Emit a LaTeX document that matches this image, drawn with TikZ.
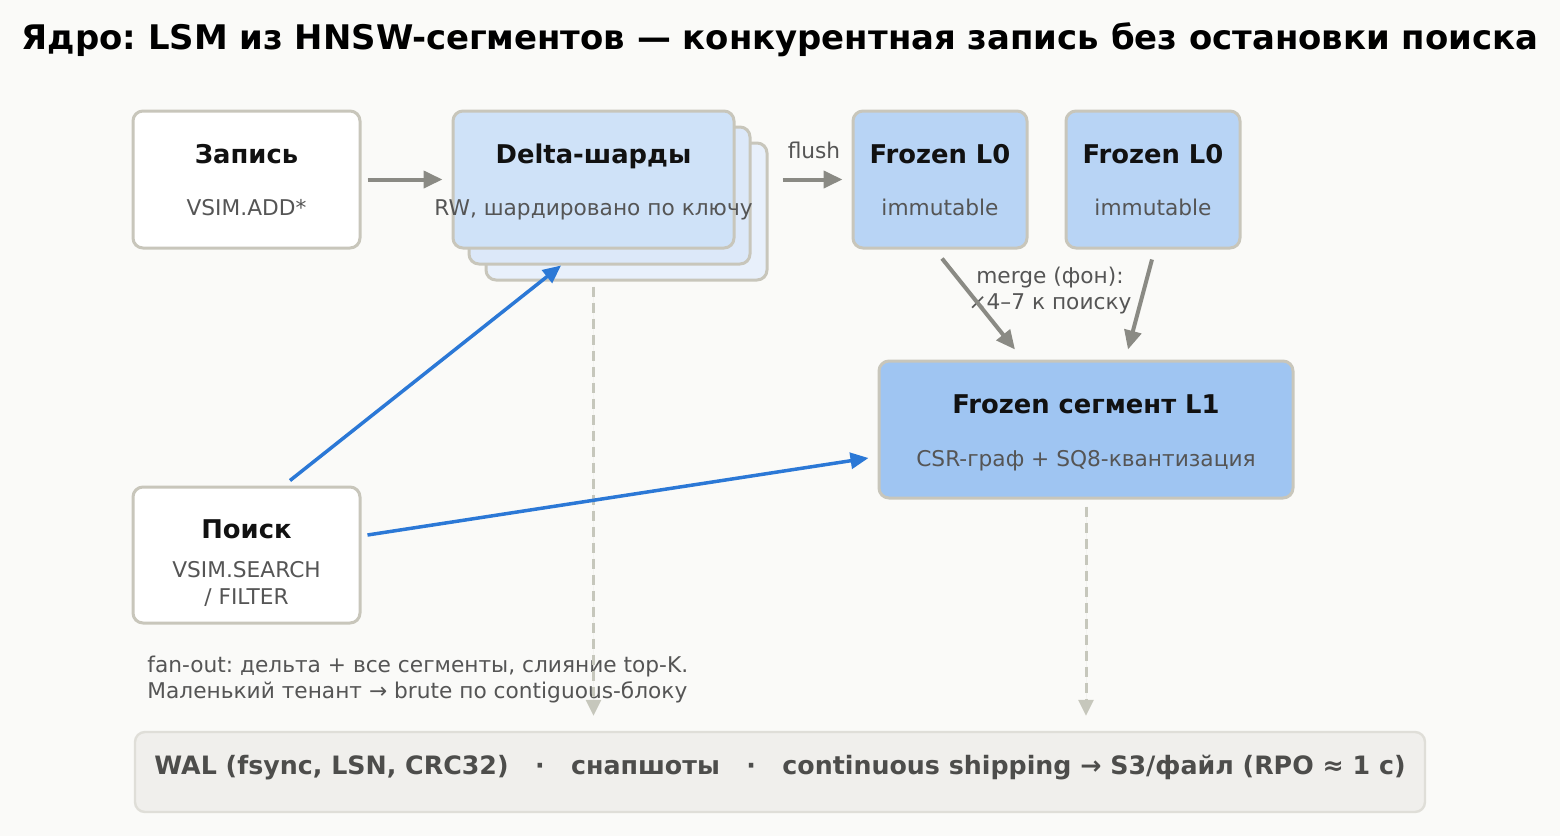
\documentclass[tikz,border=0pt]{standalone}
\usepackage{fontspec}
\setmainfont{DejaVu Sans}
\usetikzlibrary{arrows.meta,calc}
\frenchspacing
\definecolor{bg}{HTML}{FAFAF8}
\definecolor{bordc}{HTML}{C8C6BB}
\definecolor{subc}{HTML}{555555}
\definecolor{ttlc}{HTML}{111111}
\definecolor{arrg}{HTML}{8A8A84}
\definecolor{blu}{HTML}{2B78D6}
\definecolor{dashc}{HTML}{C6C7BC}
\definecolor{dA}{HTML}{CFE2F8}
\definecolor{dB}{HTML}{DCE8F9}
\definecolor{dC}{HTML}{E8F0FB}
\definecolor{lzero}{HTML}{B8D4F5}
\definecolor{lone}{HTML}{9FC5F2}
\definecolor{walf}{HTML}{F0EFEC}
\definecolor{walb}{HTML}{DFDED8}
\definecolor{walt}{HTML}{4D4D4B}
\tikzset{
  box/.style={draw=bordc, line width=1.5pt, rounded corners=5pt, inner sep=0pt},
  ttl/.style={font=\bfseries\fontsize{12.9}{15}\selectfont, text=ttlc, inner sep=0pt, text height=9.4pt, text depth=0pt},
  sub/.style={font=\fontsize{10.85}{13}\selectfont, text=subc, inner sep=0pt, text height=7.9pt, text depth=0pt},
  garrow/.style={draw=arrg, line width=2pt, -{Triangle[length=9.5pt,width=8.5pt]}, fill=arrg},
  barrow/.style={draw=blu, line width=1.75pt, -{Triangle[length=9pt,width=8pt]}, fill=blu},
  darrow/.style={draw=dashc, line width=1.5pt, dash pattern=on 5pt off 3pt, -{Triangle[length=8pt,width=7.5pt]}, fill=dashc},
}
\begin{document}
\begin{tikzpicture}[x=0.5pt,y=-0.5pt]
\useasboundingbox[fill=bg] (0,0) rectangle (1560,836);
% title
\node[font=\bfseries\fontsize{16.95}{19}\selectfont, text=black, inner sep=0pt, text height=12.4pt, text depth=0pt] (title) at (780,37) {Ядро: LSM из HNSW-сегментов — конкурентная запись без остановки поиска};
% write
\node[box, fill=white, minimum width=113.5pt, minimum height=68.5pt] (zap) at (246.5,179.5) {};
\node[ttl] (zapT) at (246.5,154) {Запись};
\node[sub] (zapS) at (246.5,208) {VSIM.ADD*};
% delta stack
\node[box, fill=dC, minimum width=140.5pt, minimum height=68.5pt] (d3) at (626.5,211.5) {};
\node[box, fill=dB, minimum width=140.5pt, minimum height=68.5pt] (d2) at (609.5,195.5) {};
\node[box, fill=dA, minimum width=140.5pt, minimum height=68.5pt] (delta) at (593.5,179.5) {};
\node[ttl] (deltaT) at (593.5,154) {Delta-шарды};
\node[sub] (deltaS) at (593.5,208) {RW, шардировано по ключу};
% frozen L0
\node[box, fill=lzero, minimum width=87pt, minimum height=68.5pt] (l0a) at (940,179.5) {};
\node[ttl] (l0aT) at (940,154) {Frozen L0};
\node[sub] (l0aS) at (940,208) {immutable};
\node[box, fill=lzero, minimum width=87pt, minimum height=68.5pt] (l0b) at (1153,179.5) {};
\node[ttl] (l0bT) at (1153,154) {Frozen L0};
\node[sub] (l0bS) at (1153,208) {immutable};
% frozen L1
\node[box, fill=lone, minimum width=207pt, minimum height=68.5pt] (l1) at (1086,429.5) {};
\node[ttl] (l1T) at (1086,404) {Frozen сегмент L1};
\node[sub] (l1S) at (1086,459) {CSR-граф + SQ8-квантизация};
% search
\node[box, fill=white, minimum width=113.5pt, minimum height=68pt] (poisk) at (246.5,555) {};
\node[ttl] (poiskT) at (246.5,529) {Поиск};
\node[sub] (poiskS1) at (246.5,570) {VSIM.SEARCH};
\node[sub] (poiskS2) at (246.5,597) {/ FILTER};
% WAL bar
\node[draw=walb, fill=walf, line width=1.2pt, rounded corners=5pt, minimum width=645pt, minimum height=40pt, inner sep=0pt] (wal) at (780,772) {};
\node[font=\bfseries\fontsize{12.65}{14}\selectfont, text=walt, inner sep=0pt, text height=9.2pt, text depth=0pt] (walT) at (780,765) {WAL (fsync, LSN, CRC32)~~~·~~~снапшоты~~~·~~~continuous shipping → S3/файл (RPO ≈ 1 с)};
% notes
\node[sub, anchor=west] (fan1) at (147,665) {fan-out: дельта + все сегменты, слияние top-K.};
\node[sub, anchor=west] (fan2) at (147,691) {Маленький тенант → brute по contiguous-блоку};
\node[sub] (flushL) at (814,151) {flush};
\node[sub] (merge1) at (1050,276) {merge (фон):};
\node[sub] (merge2) at (1050,302) {×4–7 к поиску};
% dashed arrows
\draw[darrow] ($(delta.south |- d3.south)+(0,5)$) -- ($(delta.south |- wal.north)+(0,-15)$);
\draw[darrow] ($(l1.south)+(0,7)$) -- ($(l1.south |- wal.north)+(0,-15)$);
% gray arrows
\draw[garrow] ($(zap.east)+(6,0)$) -- ($(delta.west)+(-9,0)$);
\draw[garrow] ($(d3.east |- delta.east)+(14,0)$) -- ($(l0a.west)+(-9,0)$);
\draw[garrow] ($(l0a.south)+(2,9)$) -- ($(l1.north)+(-71,-10)$);
\draw[garrow] ($(l0b.south)+(-1,10)$) -- ($(l1.north)+(42,-10)$);
% blue arrows
\draw[barrow] ($(poisk.north)+(43.5,-5)$) -- ($(delta.south)+(-32.5,16)$);
\draw[barrow] ($(poisk.east)+(6,-20)$) -- ($(l1.west)+(-9,28.5)$);
\end{tikzpicture}
\end{document}
